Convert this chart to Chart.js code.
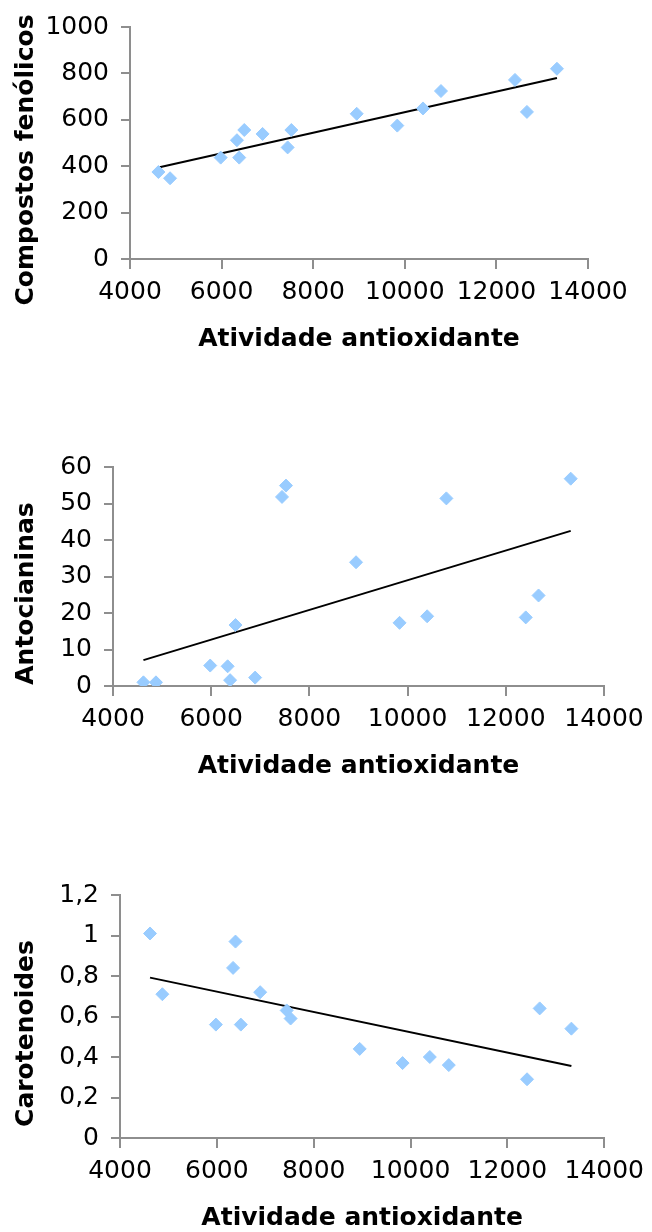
<!DOCTYPE html>
<html>
<head>
<meta charset="utf-8">
<script src="https://cdn.jsdelivr.net/npm/chart.js@4.4.1/dist/chart.umd.min.js"></script>
<style>
    html, body { margin: 0; padding: 0; background: #fff; overflow: hidden; }
    #page { position: relative; width: 652px; height: 1232px; }
    .box { position: absolute; left: 0; width: 652px; }
</style>
</head>
<body>
<div id="page">
    <div class="box" style="top:0px"><canvas id="c1" width="652" height="354"></canvas></div>
    <div class="box" style="top:400px"><canvas id="c2" width="652" height="381"></canvas></div>
    <div class="box" style="top:830px"><canvas id="c3" width="652" height="403"></canvas></div>
</div>
<script>
// x values shared by the three charts
var atividade = [4620, 4875, 5980, 6335, 6385, 6495, 6895, 7442, 7523, 8950, 9836, 10398, 10790, 12406, 12667, 13322];

var fenolicos = [375, 348, 437, 512, 437, 556, 539, 481, 556, 626, 575, 649, 724, 772, 634, 820];
var antocianinas = [1.0, 1.0, 5.6, 5.4, 1.6, 16.7, 2.3, 51.8, 54.9, 33.9, 17.3, 19.1, 51.4, 18.8, 24.8, 56.8];
var carotenoides = [1.01, 0.71, 0.56, 0.84, 0.97, 0.56, 0.72, 0.63, 0.59, 0.44, 0.37, 0.40, 0.36, 0.29, 0.64, 0.54];

// trendline end points
var trendX = [4620, 13322];
var trendFenolicos = [394, 780];
var trendAntocianinas = [7.1, 42.5];
var trendCarotenoides = [0.792, 0.356];

var xTicks = [4000, 6000, 8000, 10000, 12000, 14000];
var yTicksFenolicos = [0, 200, 400, 600, 800, 1000];
var yTicksAntocianinas = [0, 10, 20, 30, 40, 50, 60];
var yTicksCarotenoides = [0, 0.2, 0.4, 0.6, 0.8, 1.0, 1.2];
var yLabelsCarotenoides = ['0', '0,2', '0,4', '0,6', '0,8', '1', '1,2'];

var xTitle = 'Atividade antioxidante';
var axisGray = '#8e8e8e';
var pointBlue = '#99ccff';

function toPoints(xs, ys) {
    var pts = [];
    for (var i = 0; i < xs.length; i++) {
        pts.push({x: xs[i], y: ys[i]});
    }
    return pts;
}

// rotated y title, drawn a bit below the middle of the plot like the original
var sideTitlePlugin = {
    id: 'sideTitle',
    afterDraw: function (chart, args, opts) {
        var ctx = chart.ctx;
        var area = chart.chartArea;
        ctx.save();
        ctx.translate(opts.x, (area.top + area.bottom) / 2 + opts.shift);
        ctx.rotate(-Math.PI / 2);
        ctx.font = 'bold 25px "DejaVu Sans"';
        ctx.fillStyle = '#000';
        ctx.textAlign = 'center';
        ctx.textBaseline = 'alphabetic';
        ctx.fillText(opts.text, 0, 0);
        ctx.restore();
    }
};

function createScatter(canvasId, values, trendY, yTicks, yLabels, yTitle, box) {
    var ctx = document.getElementById(canvasId);
    return new Chart(ctx, {
        type: 'scatter',
        data: {
            datasets: [{
                data: toPoints(atividade, values),
                pointStyle: 'rectRot',
                pointRadius: 6.5,
                pointHoverRadius: 6.5,
                backgroundColor: pointBlue,
                borderColor: pointBlue,
                borderWidth: 1
            }, {
                data: toPoints(trendX, trendY),
                showLine: true,
                pointRadius: 0,
                borderColor: '#000',
                borderWidth: 2,
                fill: false
            }]
        },
        options: {
            responsive: false,
            animation: false,
            layout: {padding: {top: box.top, right: box.right, left: 0, bottom: 0}},
            plugins: {
                legend: {display: false},
                tooltip: {enabled: false},
                sideTitle: {text: yTitle, x: 33, shift: 17}
            },
            scales: {
                x: {
                    type: 'linear',
                    min: xTicks[0],
                    max: xTicks[xTicks.length - 1],
                    afterBuildTicks: function (scale) {
                        scale.ticks = xTicks.map(function (v) { return {value: v}; });
                    },
                    afterFit: function (scale) { scale.height = 95; },
                    grid: {drawOnChartArea: false, tickLength: 10, color: axisGray, lineWidth: 2},
                    border: {color: axisGray, width: 2},
                    ticks: {
                        autoSkip: false, maxRotation: 0, padding: 8, color: '#000',
                        font: {family: 'DejaVu Sans', size: 25, lineHeight: 1.2},
                        callback: function (v) { return String(v); }
                    },
                    title: {
                        display: true, text: xTitle, color: '#000', padding: 0,
                        font: {family: 'DejaVu Sans', size: 25, weight: 'bold', lineHeight: 1.2}
                    }
                },
                y: {
                    type: 'linear',
                    min: yTicks[0],
                    max: yTicks[yTicks.length - 1],
                    afterBuildTicks: function (scale) {
                        scale.ticks = yTicks.map(function (v) { return {value: v}; });
                    },
                    afterFit: function (scale) { scale.width = box.left; },
                    grid: {drawOnChartArea: false, tickLength: 9, color: axisGray, lineWidth: 2},
                    border: {color: axisGray, width: 2},
                    ticks: {
                        autoSkip: false, padding: 12, color: '#000',
                        font: {family: 'DejaVu Sans', size: 25, lineHeight: 1.2},
                        callback: function (v, i) { return yLabels ? yLabels[i] : String(v); }
                    }
                }
            }
        },
        plugins: [sideTitlePlugin]
    });
}

createScatter('c1', fenolicos, trendFenolicos, yTicksFenolicos, null, 'Compostos fenólicos', {top: 27, right: 64, left: 130});
createScatter('c2', antocianinas, trendAntocianinas, yTicksAntocianinas, null, 'Antocianinas', {top: 67, right: 48, left: 113});
createScatter('c3', carotenoides, trendCarotenoides, yTicksCarotenoides, yLabelsCarotenoides, 'Carotenoides', {top: 65, right: 46, left: 120});
</script>
</body>
</html>
